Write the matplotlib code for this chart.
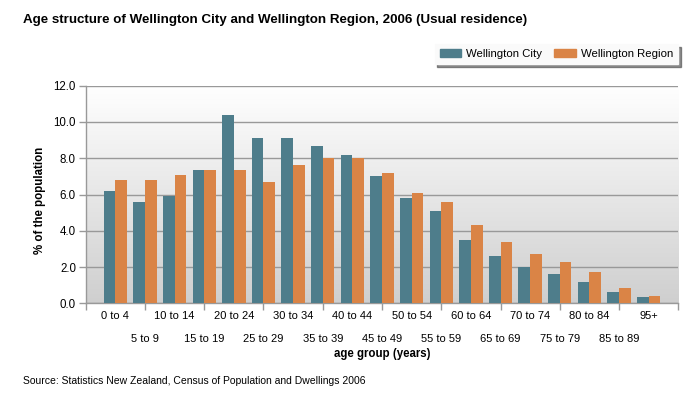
import numpy as np
import matplotlib
matplotlib.use("Agg")
import matplotlib.pyplot as plt
from matplotlib.patches import Patch

age_groups = ["0 to 4", "5 to 9", "10 to 14", "15 to 19", "20 to 24", "25 to 29",
              "30 to 34", "35 to 39", "40 to 44", "45 to 49", "50 to 54", "55 to 59",
              "60 to 64", "65 to 69", "70 to 74", "75 to 79", "80 to 84", "85 to 89", "95+"]
city = [6.2, 5.6, 5.9, 7.35, 10.4, 9.1, 9.1, 8.7, 8.2, 7.0, 5.8, 5.1, 3.5, 2.6, 2.0, 1.6, 1.2, 0.6, 0.35]
region = [6.8, 6.8, 7.1, 7.35, 7.35, 6.7, 7.6, 8.0, 8.0, 7.2, 6.1, 5.6, 4.3, 3.4, 2.7, 2.3, 1.7, 0.85, 0.4]
y_ticks = [0, 2, 4, 6, 8, 10, 12]

teal = "#4e7d8b"
orange = "#da8446"
plt.rcParams["font.family"] = ["Liberation Sans", "DejaVu Sans"]

fig = plt.figure(figsize=(7, 4), dpi=100)
ax = fig.add_axes([85.7/700, 1-303.3/400, 592.6/700, 217.6/400])

# gradient background
grad = np.linspace(1, 0, 256).reshape(-1, 1)
ax.imshow(grad, cmap=matplotlib.colors.LinearSegmentedColormap.from_list("g", ["#cfcfcf", "#ffffff"]),
          extent=[0, 1, 0, 1], transform=ax.transAxes, aspect="auto", zorder=0)

x = np.arange(len(age_groups))
w = 0.394
ax.bar(x - w/2, city, w, color=teal, zorder=3)
ax.bar(x + w/2, region, w, color=orange, zorder=3)

ax.set_xlim(-1, 19)
ax.set_ylim(0, 12)
ax.set_yticks(y_ticks)
ax.set_yticklabels(["{:.1f}".format(v) for v in y_ticks], fontsize=8.3)
ax.yaxis.grid(True, color="#999999", linewidth=1, zorder=1)
ax.set_axisbelow(False)

ax.set_xticks(np.arange(-1, 20, 2))
ax.set_xticklabels([])
ax.tick_params(axis="x", length=5, color="#999999", width=1)
ax.tick_params(axis="y", length=5, color="#999999", width=1, pad=2)
for s in ["top", "right"]:
    ax.spines[s].set_visible(False)
for s in ["left", "bottom"]:
    ax.spines[s].set_color("#999999")
    ax.spines[s].set_linewidth(1)

trans = ax.get_xaxis_transform()
for i, lab in enumerate(age_groups):
    yy = -0.058 if i % 2 == 0 else -0.164
    ax.text(i, yy, lab, transform=trans, ha="center", va="center", fontsize=8)

fig.text(40/700, 1-200/400, "% of the population", rotation=90, ha="center", va="center",
         fontsize=8.3, fontweight="bold")
fig.text(382/700, 1-354/400, "age group (years)", ha="center", va="center",
         fontsize=8.3, fontweight="bold")
fig.text(23/700, 1-20/400, "Age structure of Wellington City and Wellington Region, 2006 (Usual residence)",
         ha="left", va="center", fontsize=9.6, fontweight="bold")
fig.text(23/700, 1-381/400, "Source: Statistics New Zealand, Census of Population and Dwellings 2006",
         ha="left", va="center", fontsize=7.5)

handles = [Patch(color=teal, label="Wellington City"), Patch(color=orange, label="Wellington Region")]
leg = fig.legend(handles=handles, loc="upper right", bbox_to_anchor=(678/700, 1-44/400), ncol=2,
                 frameon=True, fancybox=False, shadow={"color": "#444444", "alpha": 0.6},
                 handlelength=1.9, handleheight=0.75, handletextpad=0.45, columnspacing=1.0,
                 borderpad=0.45, borderaxespad=0, prop={"size": 8.2})
leg.get_frame().set_facecolor("#fafafa")
leg.get_frame().set_edgecolor("#fafafa")

fig.savefig("out.png", dpi=100)
